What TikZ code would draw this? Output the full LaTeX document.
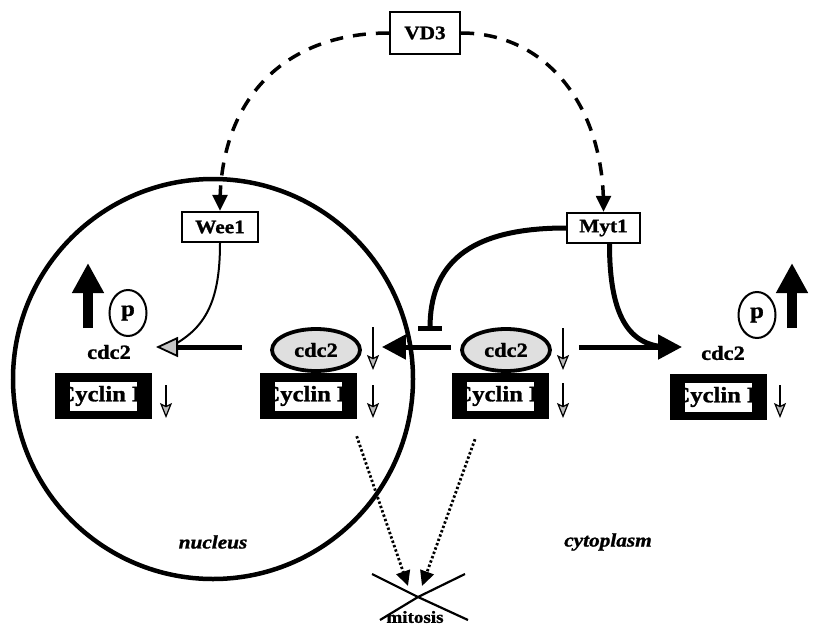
\documentclass[tikz,border=0pt]{standalone}
\usepackage{fontspec}
\setmainfont{Liberation Serif}[FakeStretch=1.12, BoldFeatures={FakeBold=1.3}, BoldItalicFeatures={FakeBold=1.3}]
\usetikzlibrary{arrows.meta,calc,shapes.geometric}
\begin{document}
\begin{tikzpicture}[x=1pt,y=-1pt,
  lbl/.style={font=\fontsize{20}{22}\selectfont\bfseries, inner sep=0pt},
  gene/.style={draw, line width=2.4pt, fill=white, font=\fontsize{19}{21}\selectfont\bfseries, minimum width=76pt, minimum height=30pt, inner sep=0pt},
  ellip/.style={ellipse, draw, line width=3.8pt, fill=gray!25, minimum width=88pt, minimum height=42pt, inner sep=0pt, font=\fontsize{20}{22}\selectfont\bfseries},
  cyc/.style={fill=black, minimum width=97pt, minimum height=46pt, inner sep=0pt, font=\fontsize{22}{24}\selectfont\bfseries,
    path picture={\fill[white] ($(path picture bounding box.center)+(-33.5,-14.5)$) rectangle ($(path picture bounding box.center)+(33.5,14.5)$);}},
  pc/.style={ellipse, draw, line width=2pt, minimum width=37pt, minimum height=46pt, inner sep=0pt, font=\fontsize{22}{24}\selectfont\bfseries},
  bigup/.style={line width=10pt, -{Triangle[width=30pt,length=30pt]}},
  thk/.style={line width=5pt},
  harr/.style={thk, -{Triangle[width=24pt,length=24pt]}},
  grayarr/.style={thk, -{Triangle[open, fill=gray!45, width=20pt, length=22pt, line width=1.8pt]}},
  smallarr/.style={line width=2pt, -{Stealth[width=12pt,length=15pt,inset=3pt, fill=gray!55, line width=1.2pt]}},
  dashline/.style={line width=3.5pt, dash pattern=on 13pt off 10pt},
  dotarr/.style={line width=2.8pt, dash pattern=on 2.4pt off 2.2pt, -{Triangle[width=14pt,length=15pt]}},
  it/.style={font=\fontsize{19}{21}\selectfont\bfseries\itshape, inner sep=0pt}
]
\useasboundingbox (0,0) rectangle (813,629);

% nucleus
\node[circle, draw, line width=4.5pt, minimum size=400pt, inner sep=0pt] (nuc) at (213,379) {};

% top genes
\node[gene, minimum width=70pt, minimum height=42pt] (vd3) at (425,33) {VD3};
\node[gene] (wee) at (220,227) {Wee1};
\node[gene, minimum width=73pt] (myt) at (603.5,228) {Myt1};

% left (nucleus, phosphorylated)
\node[pc] (lp) at (128,313) {p};
\node[lbl] (lcdc) at (109,352) {cdc2};
\node[cyc] (lcyc) at (103,396) {Cyclin B};

% nucleus complex
\node[ellip] (mcdc) at (316,350) {cdc2};
\node[cyc] (mcyc) at (308,396) {Cyclin B};

% cytoplasm complex
\node[ellip] (ccdc) at (506,350) {cdc2};
\node[cyc] (ccyc) at (500,396) {Cyclin B};

% right (cytoplasm, phosphorylated)
\node[pc] (rp) at (757,315) {p};
\node[lbl] (rcdc) at (723,353) {cdc2};
\node[cyc] (rcyc) at (718,397) {Cyclin B};

% labels
\node[it] (nl) at (213,542) {nucleus};
\node[it] (cl) at (608,542) {cytoplasm};
\node[lbl, font=\fontsize{17}{19}\selectfont\bfseries] (mit) at (415,617) {mitosis};
\coordinate (mx) at (418,597);

% big up arrows
\draw[bigup] (88,328) -- (88,263);
\draw[bigup] (792,328) -- (792,263);

% small down arrows
\draw[smallarr] (166,385) -- (166,418);
\draw[smallarr] (373,327) -- (373,370);
\draw[smallarr] (373,385) -- (373,418);
\draw[smallarr] (563,328) -- (563,370);
\draw[smallarr] (563,383) -- (563,418);
\draw[smallarr] (780,385) -- (780,418);

% VD3 dashed arcs
\draw[dashline] (vd3.west) .. controls +(-105,0) and +(0,-105) .. ([yshift=6pt]wee.north);
\draw[-{Triangle[width=15pt,length=16pt]}, line width=2.5pt] ($(wee.north)+(0,-16)$) -- (wee.north);
\draw[dashline] (vd3.east) .. controls +(85,0) and +(0,-100) .. ([yshift=6pt]myt.north);
\draw[-{Triangle[width=15pt,length=16pt]}, line width=2.5pt] ($(myt.north)+(0,-16)$) -- (myt.north);

% horizontal arrows
\coordinate (ltip) at (156,347);
\draw[grayarr] ($(mcdc.west)+(-28,-3)$) -- (ltip);
\draw[line width=2pt] (wee.south) .. controls +(0,55) and +(30,-18) .. ($(ltip)+(21,-4)$);
\draw[harr] ($(ccdc.west)+(-9,-3)$) -- ($(mcdc.east)+(20,-3)$);
\draw[harr] ($(ccdc.east)+(27,-3)$) -- ($(rcdc.west)+(-19,-6)$);

% Myt1 connectors
\coordinate (inh) at (430,328);
\draw[thk] (myt.west) .. controls +(-100,0) and +(0,-62) .. (inh);
\draw[thk] ($(inh)+(-12,0)$) -- ($(inh)+(12,0)$);
\draw[thk] ([xshift=6pt]myt.south) .. controls +(0,72) and +(-40,0) .. ($(rcdc.west)+(-32,-6)$);

% mitosis
\draw[line width=2.2pt] (372,574) -- (mx) -- (468,620);
\draw[line width=2.2pt] (380,620) -- (mx) -- (465,574);
\draw[dotarr] ($(mcyc.south east)+(0,17)$) -- ($(mx)+(-10,-11)$);
\draw[dotarr] ($(ccyc.south)+(-25,20)$) -- ($(mx)+(4,-11)$);
\end{tikzpicture}
\end{document}
